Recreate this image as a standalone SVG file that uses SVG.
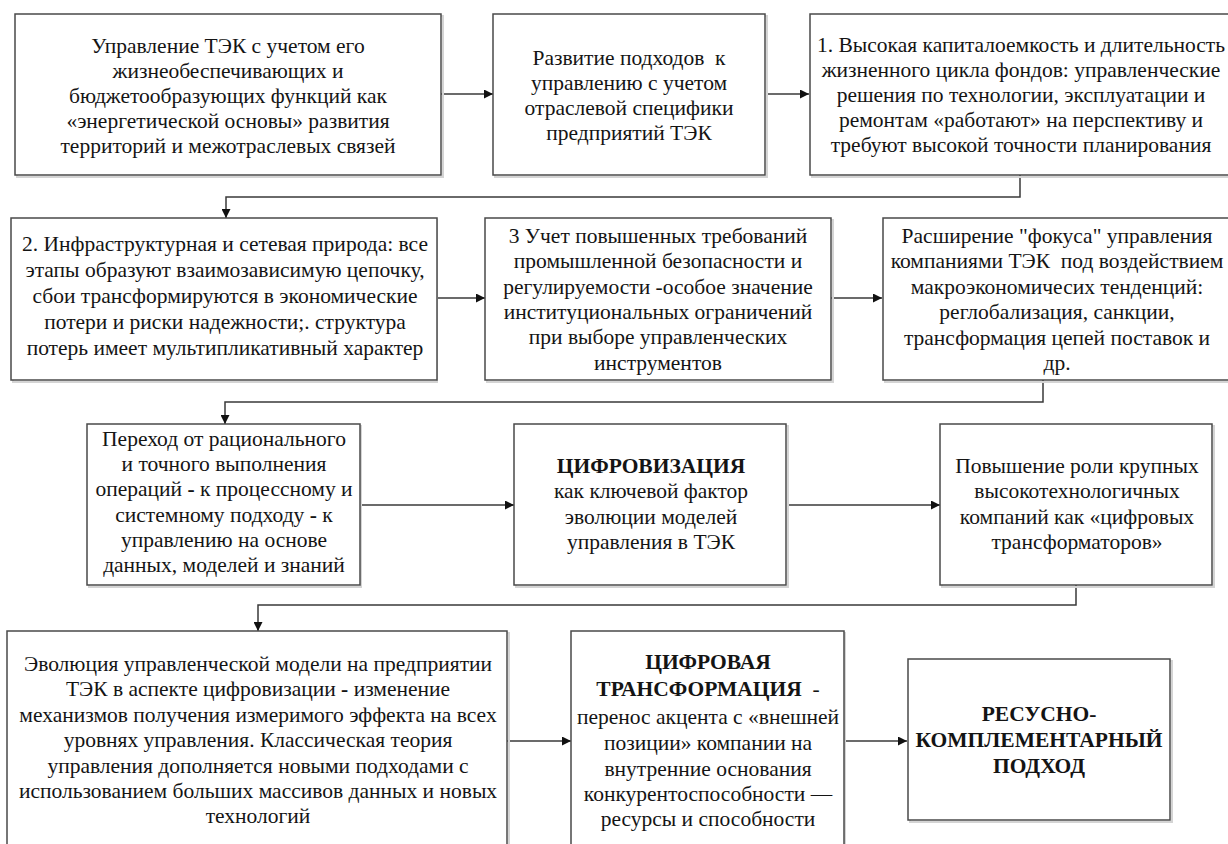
<svg xmlns="http://www.w3.org/2000/svg" width="1228" height="844" viewBox="0 0 1228 844">
  <defs>
    <marker id="arrow" viewBox="0 0 10 10" refX="10" refY="5" markerWidth="10" markerHeight="9" markerUnits="userSpaceOnUse" orient="auto">
      <path d="M0,0 L10,5 L0,10 z" fill="#111"/>
    </marker>
    <style>
      .box { fill: #ffffff; stroke: #4a4a4a; stroke-width: 1.5; }
      .shadow { fill: none; stroke: #d4d4d4; stroke-width: 2; }
      .t { font-family: "Liberation Serif", "Times New Roman", serif; font-size: 21.5px; fill: #141414; text-anchor: middle; }
      .b { font-weight: bold; }
      .link { fill: none; stroke: #3a3a3a; stroke-width: 1.5; marker-end: url(#arrow); }
    </style>
  </defs>
  <rect width="1228" height="844" fill="#ffffff"/>

  <!-- connectors -->
  <g id="connectors">
    <path class="link" d="M441,94 H493"/>
    <path class="link" d="M766,94 H809"/>
    <path class="link" d="M1020,175 V197 H226 V218"/>
    <path class="link" d="M437,298 H485"/>
    <path class="link" d="M831,298 H882"/>
    <path class="link" d="M1043,380 V402 H225 V424"/>
    <path class="link" d="M361,505 H514"/>
    <path class="link" d="M787,505 H940"/>
    <path class="link" d="M1076,585 V605 H258 V631"/>
    <path class="link" d="M507,741 H571"/>
    <path class="link" d="M844,741 H907"/>
  </g>

  <!-- row 1 -->
  <g id="n1">
    <rect class="shadow" x="17" y="16" width="426" height="161"/>
    <rect class="box" x="15" y="14" width="426" height="161"/>
    <text class="t" x="228" y="53">Управление ТЭК с учетом его</text>
    <text class="t" x="228" y="78">жизнеобеспечивающих и</text>
    <text class="t" x="228" y="103">бюджетообразующих функций как</text>
    <text class="t" x="228" y="128">«энергетической основы» развития</text>
    <text class="t" x="228" y="153">территорий и межотраслевых связей</text>
  </g>
  <g id="n2">
    <rect class="shadow" x="495" y="16" width="272" height="161"/>
    <rect class="box" x="493" y="14" width="272" height="161"/>
    <text class="t" x="629" y="65" xml:space="preserve">Развитие подходов  к</text>
    <text class="t" x="629" y="90">управлению с учетом</text>
    <text class="t" x="629" y="115">отраслевой специфики</text>
    <text class="t" x="629" y="140">предприятий ТЭК</text>
  </g>
  <g id="n3">
    <rect class="shadow" x="812" y="16" width="430" height="161"/>
    <rect class="box" x="810" y="14" width="430" height="161"/>
    <text class="t" x="1021" y="52">1. Высокая капиталоемкость и длительность</text>
    <text class="t" x="1021" y="77">жизненного цикла фондов: управленческие</text>
    <text class="t" x="1021" y="102">решения по технологии, эксплуатации и</text>
    <text class="t" x="1021" y="127">ремонтам «работают» на перспективу и</text>
    <text class="t" x="1021" y="152">требуют высокой точности планирования</text>
  </g>

  <!-- row 2 -->
  <g id="n4">
    <rect class="shadow" x="13" y="220" width="424" height="162"/>
    <rect class="box" x="11" y="218" width="426" height="162"/>
    <text class="t" x="225" y="251">2. Инфраструктурная и сетевая природа: все</text>
    <text class="t" x="225" y="277">этапы образуют взаимозависимую цепочку,</text>
    <text class="t" x="225" y="303">сбои трансформируются в экономические</text>
    <text class="t" x="225" y="329">потери и риски надежности;. структура</text>
    <text class="t" x="225" y="355">потерь имеет мультипликативный характер</text>
  </g>
  <g id="n5">
    <rect class="shadow" x="487" y="220" width="346" height="162"/>
    <rect class="box" x="485" y="218" width="346" height="162"/>
    <text class="t" x="658" y="243">3 Учет повышенных требований</text>
    <text class="t" x="658" y="268">промышленной безопасности и</text>
    <text class="t" x="658" y="294">регулируемости -особое значение</text>
    <text class="t" x="658" y="319">институциональных ограничений</text>
    <text class="t" x="658" y="344">при выборе управленческих</text>
    <text class="t" x="658" y="370">инструментов</text>
  </g>
  <g id="n6">
    <rect class="shadow" x="885" y="220" width="360" height="162"/>
    <rect class="box" x="883" y="218" width="360" height="162"/>
    <text class="t" x="1057" y="243">Расширение "фокуса" управления</text>
    <text class="t" x="1057" y="268" xml:space="preserve">компаниями ТЭК  под воздействием</text>
    <text class="t" x="1057" y="294">макроэкономичесих тенденций:</text>
    <text class="t" x="1057" y="319">реглобализация, санкции,</text>
    <text class="t" x="1057" y="345">трансформация цепей поставок и</text>
    <text class="t" x="1057" y="370">др.</text>
  </g>

  <!-- row 3 -->
  <g id="n7">
    <rect class="shadow" x="89" y="426" width="272" height="161"/>
    <rect class="box" x="87" y="424" width="273" height="161"/>
    <text class="t" x="224" y="446">Переход от рационального</text>
    <text class="t" x="224" y="471">и точного выполнения</text>
    <text class="t" x="224" y="496">операций <tspan class="b">-</tspan> к процессному и</text>
    <text class="t" x="224" y="522">системному подходу <tspan class="b">-</tspan> к</text>
    <text class="t" x="224" y="547">управлению на основе</text>
    <text class="t" x="224" y="572">данных, моделей и знаний</text>
  </g>
  <g id="n8">
    <rect class="shadow" x="516" y="426" width="272" height="161"/>
    <rect class="box" x="514" y="424" width="272" height="161"/>
    <text class="t b" x="651" y="473">ЦИФРОВИЗАЦИЯ</text>
    <text class="t" x="651" y="498">как ключевой фактор</text>
    <text class="t" x="651" y="524">эволюции моделей</text>
    <text class="t" x="651" y="549">управления в ТЭК</text>
  </g>
  <g id="n9">
    <rect class="shadow" x="942" y="426" width="272" height="161"/>
    <rect class="box" x="940" y="424" width="272" height="161"/>
    <text class="t" x="1077" y="473">Повышение роли крупных</text>
    <text class="t" x="1077" y="498">высокотехнологичных</text>
    <text class="t" x="1077" y="524">компаний как «цифровых</text>
    <text class="t" x="1077" y="549">трансформаторов»</text>
  </g>

  <!-- row 4 -->
  <g id="n10">
    <rect class="shadow" x="9" y="633" width="500" height="230"/>
    <rect class="box" x="7" y="631" width="500" height="230"/>
    <text class="t" x="258" y="671">Эволюция управленческой модели на предприятии</text>
    <text class="t" x="258" y="696">ТЭК в аспекте цифровизации <tspan class="b">-</tspan> изменение</text>
    <text class="t" x="258" y="722">механизмов получения измеримого эффекта на всех</text>
    <text class="t" x="258" y="747">уровнях управления. Классическая теория</text>
    <text class="t" x="258" y="773">управления дополняется новыми подходами с</text>
    <text class="t" x="258" y="798">использованием больших массивов данных и новых</text>
    <text class="t" x="258" y="823">технологий</text>
  </g>
  <g id="n11">
    <rect class="shadow" x="573" y="633" width="272" height="230"/>
    <rect class="box" x="571" y="631" width="273" height="230"/>
    <text class="t b" x="708" y="669">ЦИФРОВАЯ</text>
    <text class="t" x="708" y="696" xml:space="preserve"><tspan class="b">ТРАНСФОРМАЦИЯ</tspan>  -</text>
    <text class="t" x="708" y="724">перенос акцента с «внешней</text>
    <text class="t" x="708" y="750">позиции» компании на</text>
    <text class="t" x="708" y="776">внутренние основания</text>
    <text class="t" x="708" y="801">конкурентоспособности —</text>
    <text class="t" x="708" y="826">ресурсы и способности</text>
  </g>
  <g id="n12">
    <rect class="shadow" x="910" y="661" width="262" height="161"/>
    <rect class="box" x="908" y="659" width="262" height="161"/>
    <text class="t b" x="1039" y="721">РЕСУСНО-</text>
    <text class="t b" x="1039" y="747">КОМПЛЕМЕНТАРНЫЙ</text>
    <text class="t b" x="1039" y="773">ПОДХОД</text>
  </g>
</svg>
